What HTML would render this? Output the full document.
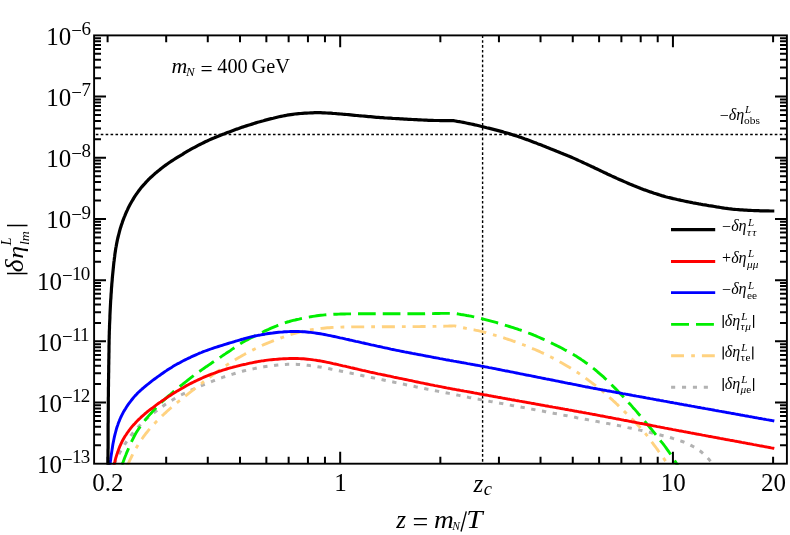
<!DOCTYPE html>
<html><head><meta charset="utf-8"><title>chart</title>
<style>html,body{margin:0;padding:0;background:#fff;}svg{display:block;will-change:transform;transform:translateZ(0);}</style>
</head><body>
<svg width="790" height="535" viewBox="0 0 790 535">
<rect width="790" height="535" fill="#fff"/>
<defs><clipPath id="c"><rect x="94.1" y="35.4" width="692.8" height="429.3"/></clipPath></defs>
<path d="M95.8,134.5 H786.9" stroke="#000" stroke-width="1.7" stroke-dasharray="2.6 2.32" fill="none"/>
<path d="M482.6,35.3 V463.7" stroke="#000" stroke-width="1.4" stroke-dasharray="2.7 2.17" fill="none"/>
<g clip-path="url(#c)" fill="none" stroke-linejoin="round">
<path d="M113.6,466.0 L114.4,464.1 L115.1,462.3 L115.9,460.5 L116.7,458.6 L117.6,456.8 L118.5,455.1 L119.4,453.3 L120.4,451.5 L121.4,449.8 L122.4,448.1 L123.5,446.4 L124.5,444.7 L125.6,443.1 L126.7,441.4 L127.9,439.7 L129.0,438.1 L130.2,436.5 L131.4,434.9 L132.6,433.3 L133.9,431.8 L135.2,430.3 L136.5,428.8 L137.9,427.3 L139.3,425.9 L140.7,424.4 L142.1,423.0 L143.5,421.6 L145.0,420.3 L146.5,418.9 L148.0,417.6 L149.5,416.4 L151.1,415.1 L152.6,413.8 L154.2,412.6 L155.8,411.4 L157.4,410.2 L159.0,408.9 L160.6,407.8 L162.2,406.6 L163.8,405.5 L165.5,404.3 L167.2,403.2 L168.9,402.2 L170.6,401.1 L172.3,400.1 L174.0,399.0 L175.7,398.0 L177.4,397.0 L179.2,396.0 L180.9,395.1 L182.7,394.2 L184.5,393.3 L186.3,392.4 L188.1,391.5 L189.9,390.7 L191.7,389.9 L193.6,389.1 L195.4,388.3 L197.2,387.5 L199.1,386.7 L200.9,385.9 L202.8,385.2 L204.6,384.4 L206.5,383.7 L208.3,382.9 L210.2,382.2 L212.1,381.4 L213.9,380.7 L215.8,380.0 L217.7,379.2 L219.5,378.5 L221.4,377.9 L223.3,377.2 L225.2,376.5 L227.1,375.9 L229.0,375.3 L230.9,374.7 L232.8,374.1 L234.7,373.5 L236.6,372.9 L238.5,372.3 L240.5,371.8 L242.4,371.3 L244.3,370.8 L246.3,370.3 L248.2,369.9 L250.2,369.4 L252.1,369.0 L254.1,368.6 L256.1,368.2 L258.0,367.8 L260.0,367.5 L262.0,367.1 L263.9,366.8 L265.9,366.5 L267.9,366.2 L269.9,366.0 L271.9,365.7 L273.9,365.5 L275.8,365.2 L277.8,365.0 L279.8,364.8 L281.8,364.7 L283.8,364.5 L285.8,364.4 L287.8,364.3 L289.8,364.3 L291.8,364.3 L293.8,364.3 L295.8,364.3 L297.8,364.4 L299.8,364.6 L301.8,364.7 L303.8,364.9 L305.8,365.1 L307.7,365.3 L309.7,365.6 L311.7,365.8 L313.7,366.1 L315.7,366.4 L317.7,366.7 L319.6,367.0 L321.6,367.3 L323.6,367.7 L325.5,368.1 L327.5,368.4 L329.5,368.8 L331.4,369.2 L333.4,369.6 L335.4,370.0 L337.3,370.4 L339.3,370.8 L341.3,371.2 L343.2,371.6 L345.2,372.0 L347.1,372.4 L349.1,372.8 L351.1,373.2 L353.0,373.6 L355.0,374.0 L356.9,374.5 L358.9,374.9 L360.8,375.3 L362.8,375.7 L364.8,376.1 L366.7,376.5 L368.7,376.9 L370.6,377.3 L372.6,377.7 L374.6,378.1 L376.5,378.5 L378.5,378.9 L380.4,379.4 L382.4,379.8 L384.4,380.2 L386.3,380.6 L388.3,381.0 L390.3,381.4 L392.2,381.8 L394.2,382.2 L396.1,382.6 L398.1,383.0 L400.0,383.4 L402.0,383.9 L404.0,384.3 L405.9,384.7 L407.9,385.1 L409.8,385.5 L411.8,385.9 L413.8,386.3 L415.7,386.8 L417.7,387.2 L419.6,387.6 L421.6,388.0 L423.6,388.4 L425.5,388.8 L427.5,389.2 L429.5,389.5 L431.4,389.9 L433.4,390.3 L435.3,390.7 L437.3,391.1 L439.3,391.5 L441.2,391.9 L443.2,392.3 L445.2,392.6 L447.1,393.0 L449.1,393.4 L451.1,393.8 L453.0,394.2 L455.0,394.6 L456.9,395.0 L458.9,395.4 L460.9,395.8 L462.8,396.2 L464.8,396.6 L466.8,397.0 L468.7,397.4 L470.7,397.7 L472.7,398.1 L474.6,398.5 L476.6,398.9 L478.6,399.2 L480.5,399.6 L482.5,400.0 L484.5,400.4 L486.4,400.7 L488.4,401.1 L490.4,401.5 L492.3,401.8 L494.3,402.2 L496.3,402.6 L498.2,402.9 L500.2,403.3 L502.2,403.6 L504.1,404.0 L506.1,404.4 L508.1,404.7 L510.0,405.1 L512.0,405.5 L514.0,405.8 L515.9,406.2 L517.9,406.6 L519.9,406.9 L521.9,407.3 L523.8,407.6 L525.8,408.0 L527.8,408.4 L529.7,408.7 L531.7,409.1 L533.7,409.5 L535.6,409.9 L537.6,410.2 L539.6,410.6 L541.5,411.0 L543.5,411.3 L545.5,411.7 L547.4,412.1 L549.4,412.5 L551.4,412.8 L553.3,413.2 L555.3,413.6 L557.3,413.9 L559.2,414.3 L561.2,414.7 L563.2,415.1 L565.1,415.4 L567.1,415.8 L569.1,416.2 L571.0,416.6 L573.0,416.9 L575.0,417.3 L576.9,417.7 L578.9,418.0 L580.9,418.4 L582.8,418.8 L584.8,419.2 L586.8,419.5 L588.7,419.9 L590.7,420.3 L592.7,420.7 L594.6,421.0 L596.6,421.4 L598.6,421.8 L600.5,422.1 L602.5,422.5 L604.5,422.9 L606.4,423.3 L608.4,423.6 L610.4,424.0 L612.3,424.4 L614.3,424.8 L616.3,425.2 L618.2,425.5 L620.2,425.9 L622.2,426.3 L624.1,426.7 L626.1,427.1 L628.0,427.6 L630.0,428.0 L632.0,428.4 L633.9,428.8 L635.9,429.2 L637.8,429.6 L639.8,430.1 L641.7,430.5 L643.7,431.0 L645.6,431.4 L647.6,431.9 L649.5,432.3 L651.5,432.8 L653.4,433.3 L655.4,433.7 L657.3,434.2 L659.3,434.7 L661.2,435.2 L663.1,435.7 L665.1,436.2 L667.0,436.7 L668.9,437.2 L670.9,437.8 L672.8,438.4 L674.7,438.9 L676.6,439.5 L678.5,440.2 L680.4,440.8 L682.3,441.5 L684.1,442.2 L686.0,443.0 L687.8,443.8 L689.6,444.7 L691.4,445.6 L693.1,446.5 L694.8,447.5 L696.5,448.6 L698.2,449.7 L699.8,450.8 L701.4,452.0 L702.9,453.3 L704.4,454.6 L705.9,456.0 L707.2,457.4 L708.6,458.9 L709.8,460.4 L711.1,462.0 L712.3,463.6 L713.4,465.2 L714.0,466.0" stroke="#b2b2b2" stroke-width="3.0" stroke-dasharray="4.3 6.6" stroke-dashoffset="-2"/>
<path d="M127.0,466.0 L127.9,464.2 L128.8,462.4 L129.6,460.6 L130.5,458.8 L131.4,457.0 L132.3,455.2 L133.2,453.4 L134.1,451.6 L135.1,449.9 L136.1,448.2 L137.1,446.4 L138.1,444.7 L139.2,443.0 L140.3,441.4 L141.4,439.7 L142.6,438.0 L143.7,436.4 L144.9,434.8 L146.1,433.2 L147.4,431.7 L148.6,430.1 L149.9,428.6 L151.3,427.1 L152.6,425.6 L154.0,424.1 L155.3,422.7 L156.7,421.2 L158.1,419.8 L159.5,418.4 L161.0,417.0 L162.4,415.6 L163.9,414.2 L165.4,412.9 L166.8,411.5 L168.3,410.2 L169.8,408.8 L171.3,407.5 L172.8,406.2 L174.4,404.9 L175.9,403.6 L177.4,402.4 L179.0,401.1 L180.6,399.9 L182.1,398.6 L183.7,397.4 L185.3,396.1 L186.9,394.9 L188.4,393.7 L190.0,392.4 L191.6,391.2 L193.2,389.9 L194.8,388.7 L196.3,387.5 L197.9,386.2 L199.5,385.0 L201.1,383.8 L202.6,382.5 L204.2,381.3 L205.8,380.1 L207.4,378.9 L209.0,377.7 L210.6,376.5 L212.2,375.3 L213.8,374.1 L215.5,372.9 L217.1,371.7 L218.7,370.6 L220.4,369.4 L222.0,368.3 L223.6,367.1 L225.3,366.0 L227.0,364.9 L228.7,363.8 L230.4,362.7 L232.1,361.7 L233.8,360.7 L235.5,359.6 L237.2,358.6 L238.9,357.6 L240.7,356.6 L242.4,355.6 L244.2,354.6 L245.9,353.6 L247.7,352.7 L249.4,351.7 L251.2,350.8 L253.0,349.9 L254.8,349.0 L256.6,348.1 L258.4,347.2 L260.2,346.4 L262.0,345.5 L263.8,344.7 L265.7,343.9 L267.5,343.1 L269.4,342.4 L271.2,341.7 L273.1,340.9 L275.0,340.2 L276.8,339.5 L278.7,338.8 L280.6,338.0 L282.5,337.4 L284.4,336.7 L286.2,336.0 L288.1,335.4 L290.0,334.7 L292.0,334.1 L293.9,333.6 L295.8,333.0 L297.7,332.5 L299.7,332.0 L301.6,331.6 L303.6,331.1 L305.5,330.7 L307.5,330.3 L309.5,330.0 L311.4,329.7 L313.4,329.4 L315.4,329.1 L317.4,328.8 L319.4,328.6 L321.4,328.4 L323.4,328.2 L325.4,328.0 L327.4,327.8 L329.4,327.7 L331.4,327.5 L333.4,327.4 L335.4,327.3 L337.4,327.2 L339.4,327.2 L341.4,327.1 L343.4,327.0 L345.4,327.0 L347.4,327.0 L349.4,327.0 L351.4,326.9 L353.4,326.9 L355.4,326.9 L357.4,326.9 L359.4,326.9 L361.4,326.9 L363.4,326.9 L365.4,326.9 L367.4,326.8 L369.4,326.8 L371.4,326.8 L373.4,326.8 L375.4,326.8 L377.4,326.8 L379.4,326.8 L381.4,326.8 L383.5,326.7 L385.5,326.7 L387.5,326.7 L389.5,326.7 L391.5,326.7 L393.5,326.7 L395.5,326.7 L397.5,326.7 L399.5,326.7 L401.5,326.6 L403.5,326.6 L405.5,326.6 L407.5,326.6 L409.5,326.6 L411.5,326.6 L413.5,326.6 L415.5,326.6 L417.5,326.6 L419.5,326.6 L421.5,326.5 L423.5,326.5 L425.5,326.5 L427.5,326.5 L429.6,326.5 L431.6,326.5 L433.6,326.4 L435.6,326.4 L437.6,326.3 L439.6,326.3 L441.6,326.2 L443.6,326.2 L445.6,326.1 L447.6,326.1 L449.6,326.0 L451.6,326.0 L453.6,325.9 L454.6,325.9 L454.6,325.9 L456.6,326.3 L458.5,326.8 L460.5,327.2 L462.4,327.6 L464.4,328.0 L466.3,328.4 L468.3,328.8 L470.3,329.2 L472.2,329.6 L474.2,329.9 L476.2,330.3 L478.1,330.7 L480.1,331.2 L482.0,331.6 L483.9,332.1 L485.9,332.6 L487.8,333.2 L489.7,333.7 L491.7,334.2 L493.6,334.8 L495.5,335.4 L497.4,335.9 L499.3,336.5 L501.2,337.1 L503.2,337.7 L505.1,338.3 L507.0,339.0 L508.9,339.6 L510.7,340.2 L512.6,340.9 L514.5,341.5 L516.4,342.2 L518.3,342.9 L520.2,343.6 L522.1,344.3 L523.9,345.0 L525.8,345.7 L527.6,346.5 L529.5,347.2 L531.3,348.0 L533.2,348.8 L535.0,349.5 L536.9,350.3 L538.7,351.1 L540.5,352.0 L542.3,352.8 L544.1,353.7 L545.9,354.5 L547.7,355.4 L549.5,356.3 L551.3,357.2 L553.1,358.1 L554.9,359.0 L556.6,360.0 L558.4,360.9 L560.1,361.9 L561.9,362.9 L563.6,363.9 L565.3,364.9 L567.0,365.9 L568.8,367.0 L570.5,368.0 L572.2,369.1 L573.9,370.1 L575.5,371.2 L577.2,372.3 L578.9,373.4 L580.5,374.6 L582.2,375.7 L583.8,376.9 L585.4,378.0 L587.0,379.2 L588.6,380.4 L590.3,381.6 L591.9,382.8 L593.4,384.0 L595.0,385.2 L596.6,386.5 L598.2,387.7 L599.7,389.0 L601.3,390.2 L602.8,391.5 L604.3,392.8 L605.9,394.1 L607.4,395.4 L608.9,396.7 L610.3,398.1 L611.8,399.4 L613.3,400.8 L614.8,402.1 L616.2,403.5 L617.7,404.9 L619.1,406.3 L620.5,407.7 L622.0,409.1 L623.4,410.5 L624.8,411.9 L626.2,413.3 L627.6,414.7 L629.1,416.2 L630.5,417.6 L631.9,419.0 L633.3,420.4 L634.7,421.8 L636.1,423.2 L637.5,424.7 L638.9,426.1 L640.2,427.6 L641.6,429.1 L642.9,430.6 L644.2,432.1 L645.5,433.7 L646.7,435.2 L647.9,436.8 L649.1,438.4 L650.3,440.0 L651.5,441.6 L652.7,443.2 L653.9,444.8 L655.1,446.4 L656.3,448.0 L657.5,449.7 L658.6,451.3 L659.8,452.9 L661.0,454.5 L662.1,456.2 L663.3,457.8 L664.4,459.4 L665.6,461.1 L666.7,462.7 L667.9,464.4 L669.0,466.0" stroke="#ffd280" stroke-width="2.9" stroke-dasharray="13 7 3.8 6.9" stroke-dashoffset="0"/>
<path d="M121.5,466.0 L122.2,464.1 L123.0,462.3 L123.7,460.4 L124.4,458.5 L125.1,456.7 L125.9,454.8 L126.6,452.9 L127.4,451.1 L128.2,449.2 L129.0,447.4 L129.8,445.6 L130.6,443.7 L131.4,441.9 L132.3,440.1 L133.2,438.3 L134.1,436.5 L135.0,434.8 L136.0,433.0 L137.1,431.3 L138.1,429.7 L139.3,428.0 L140.4,426.4 L141.6,424.7 L142.8,423.1 L144.0,421.6 L145.2,420.0 L146.5,418.4 L147.8,416.9 L149.1,415.4 L150.4,413.9 L151.8,412.4 L153.1,410.9 L154.5,409.5 L155.9,408.0 L157.3,406.6 L158.6,405.1 L160.1,403.7 L161.5,402.3 L163.0,400.9 L164.4,399.6 L165.9,398.3 L167.4,396.9 L168.9,395.6 L170.5,394.3 L172.0,393.0 L173.5,391.7 L175.0,390.4 L176.6,389.1 L178.1,387.9 L179.7,386.6 L181.2,385.3 L182.8,384.1 L184.4,382.8 L186.0,381.6 L187.5,380.4 L189.1,379.1 L190.7,377.9 L192.3,376.7 L193.9,375.5 L195.5,374.3 L197.1,373.1 L198.7,371.9 L200.4,370.8 L202.0,369.6 L203.7,368.5 L205.3,367.3 L207.0,366.2 L208.6,365.1 L210.3,364.0 L211.9,362.8 L213.6,361.7 L215.3,360.6 L216.9,359.5 L218.6,358.4 L220.3,357.3 L221.9,356.1 L223.6,355.0 L225.3,353.9 L226.9,352.8 L228.6,351.7 L230.3,350.6 L231.9,349.4 L233.6,348.3 L235.2,347.2 L236.9,346.0 L238.5,344.9 L240.2,343.9 L241.9,342.8 L243.7,341.8 L245.4,340.8 L247.2,339.9 L248.9,338.9 L250.7,338.0 L252.5,337.1 L254.3,336.2 L256.1,335.3 L257.9,334.4 L259.7,333.5 L261.5,332.6 L263.3,331.8 L265.1,330.9 L266.9,330.1 L268.7,329.3 L270.6,328.4 L272.4,327.6 L274.3,326.8 L276.1,326.1 L278.0,325.3 L279.8,324.6 L281.7,323.9 L283.6,323.2 L285.5,322.6 L287.4,322.0 L289.3,321.5 L291.3,320.9 L293.2,320.4 L295.1,320.0 L297.1,319.5 L299.0,319.1 L301.0,318.6 L303.0,318.2 L304.9,317.8 L306.9,317.4 L308.9,317.1 L310.8,316.7 L312.8,316.4 L314.8,316.1 L316.8,315.8 L318.8,315.5 L320.7,315.3 L322.7,315.1 L324.7,314.9 L326.7,314.7 L328.7,314.5 L330.7,314.4 L332.7,314.3 L334.7,314.2 L336.7,314.2 L338.7,314.1 L340.7,314.0 L342.7,314.0 L344.7,314.0 L346.8,313.9 L348.8,313.9 L350.8,313.9 L352.8,313.9 L354.8,313.9 L356.8,313.8 L358.8,313.8 L360.8,313.8 L362.8,313.8 L364.8,313.8 L366.8,313.8 L368.8,313.8 L370.8,313.8 L372.8,313.8 L374.8,313.8 L376.8,313.8 L378.8,313.8 L380.8,313.8 L382.8,313.8 L384.8,313.8 L386.8,313.8 L388.9,313.8 L390.9,313.8 L392.9,313.8 L394.9,313.8 L396.9,313.8 L398.9,313.8 L400.9,313.8 L402.9,313.8 L404.9,313.8 L406.9,313.8 L408.9,313.8 L410.9,313.8 L412.9,313.8 L414.9,313.8 L416.9,313.8 L418.9,313.7 L420.9,313.7 L422.9,313.7 L424.9,313.7 L426.9,313.6 L428.9,313.6 L430.9,313.6 L433.0,313.6 L435.0,313.5 L437.0,313.5 L439.0,313.5 L441.0,313.4 L443.0,313.4 L445.0,313.4 L447.0,313.4 L449.0,313.4 L451.0,313.4 L453.0,313.5 L455.0,313.5 L455.0,313.5 L457.0,313.8 L458.9,314.1 L460.9,314.5 L462.9,314.8 L464.9,315.1 L466.8,315.5 L468.8,315.8 L470.8,316.2 L472.7,316.6 L474.7,317.0 L476.6,317.5 L478.6,317.9 L480.5,318.4 L482.5,318.9 L484.4,319.4 L486.3,319.9 L488.3,320.4 L490.2,320.9 L492.1,321.4 L494.1,321.9 L496.0,322.4 L497.9,323.0 L499.9,323.5 L501.8,324.1 L503.7,324.7 L505.6,325.3 L507.5,325.9 L509.4,326.5 L511.3,327.1 L513.2,327.7 L515.1,328.3 L517.0,328.9 L518.9,329.6 L520.8,330.2 L522.7,330.9 L524.6,331.6 L526.4,332.3 L528.3,333.0 L530.2,333.7 L532.1,334.4 L533.9,335.2 L535.8,335.9 L537.6,336.7 L539.5,337.5 L541.3,338.3 L543.1,339.1 L544.9,339.9 L546.7,340.8 L548.5,341.6 L550.4,342.5 L552.2,343.4 L553.9,344.2 L555.7,345.1 L557.5,346.0 L559.3,346.9 L561.1,347.8 L562.9,348.8 L564.6,349.7 L566.4,350.6 L568.2,351.6 L569.9,352.5 L571.7,353.5 L573.4,354.5 L575.1,355.6 L576.8,356.6 L578.5,357.7 L580.2,358.8 L581.8,359.9 L583.5,361.0 L585.1,362.2 L586.7,363.3 L588.4,364.5 L589.9,365.7 L591.5,366.9 L593.1,368.2 L594.7,369.4 L596.2,370.7 L597.7,372.0 L599.3,373.3 L600.8,374.6 L602.3,375.9 L603.8,377.2 L605.2,378.6 L606.7,379.9 L608.1,381.3 L609.6,382.7 L611.0,384.1 L612.4,385.6 L613.8,387.0 L615.2,388.4 L616.6,389.8 L618.0,391.3 L619.4,392.7 L620.8,394.2 L622.1,395.6 L623.5,397.1 L624.8,398.5 L626.2,400.0 L627.6,401.5 L628.9,403.0 L630.3,404.4 L631.6,405.9 L632.9,407.4 L634.3,408.9 L635.6,410.4 L636.9,411.9 L638.2,413.5 L639.5,415.0 L640.8,416.5 L642.0,418.1 L643.3,419.6 L644.6,421.1 L645.9,422.7 L647.2,424.2 L648.5,425.7 L649.7,427.3 L651.0,428.8 L652.3,430.3 L653.6,431.9 L654.8,433.4 L656.1,435.0 L657.3,436.6 L658.6,438.1 L659.8,439.7 L661.0,441.3 L662.3,442.9 L663.5,444.4 L664.7,446.0 L665.9,447.6 L667.1,449.3 L668.2,450.9 L669.3,452.5 L670.5,454.2 L671.6,455.9 L672.6,457.5 L673.7,459.2 L674.8,460.9 L675.9,462.6 L676.9,464.3 L678.0,466.0" stroke="#00ee00" stroke-width="2.9" stroke-dasharray="17.7 7" stroke-dashoffset="-1.4"/>
<path d="M109.8,466.0 L110.1,464.0 L110.3,462.0 L110.6,460.0 L110.8,458.1 L111.1,456.1 L111.4,454.1 L111.7,452.1 L112.0,450.1 L112.3,448.2 L112.6,446.2 L112.9,444.2 L113.3,442.3 L113.7,440.3 L114.1,438.3 L114.5,436.4 L115.0,434.4 L115.5,432.5 L116.0,430.6 L116.5,428.7 L117.1,426.8 L117.8,424.9 L118.4,423.0 L119.2,421.1 L119.9,419.3 L120.7,417.5 L121.6,415.7 L122.5,413.9 L123.4,412.1 L124.4,410.4 L125.5,408.7 L126.5,407.0 L127.6,405.4 L128.8,403.7 L130.0,402.1 L131.2,400.5 L132.4,399.0 L133.7,397.4 L135.0,395.9 L136.4,394.5 L137.7,393.0 L139.2,391.7 L140.6,390.3 L142.1,389.0 L143.7,387.7 L145.2,386.4 L146.7,385.1 L148.3,383.9 L149.9,382.6 L151.4,381.4 L153.0,380.2 L154.6,379.0 L156.2,377.8 L157.8,376.6 L159.5,375.5 L161.1,374.3 L162.7,373.2 L164.4,372.0 L166.1,370.9 L167.7,369.8 L169.4,368.7 L171.1,367.7 L172.8,366.6 L174.5,365.6 L176.3,364.6 L178.0,363.6 L179.8,362.7 L181.5,361.7 L183.3,360.8 L185.1,359.9 L186.9,359.0 L188.7,358.1 L190.5,357.3 L192.3,356.4 L194.1,355.6 L195.9,354.8 L197.8,354.0 L199.6,353.2 L201.5,352.5 L203.3,351.7 L205.2,351.0 L207.1,350.3 L208.9,349.7 L210.8,349.0 L212.7,348.3 L214.6,347.7 L216.5,347.1 L218.4,346.5 L220.3,345.9 L222.2,345.3 L224.2,344.7 L226.1,344.1 L228.0,343.5 L229.9,342.9 L231.8,342.4 L233.7,341.8 L235.7,341.2 L237.6,340.7 L239.5,340.1 L241.4,339.5 L243.3,339.0 L245.3,338.4 L247.2,337.9 L249.1,337.4 L251.0,336.9 L253.0,336.4 L254.9,336.0 L256.9,335.6 L258.9,335.2 L260.8,334.9 L262.8,334.5 L264.8,334.2 L266.7,333.8 L268.7,333.5 L270.7,333.2 L272.7,333.0 L274.7,332.7 L276.6,332.5 L278.6,332.3 L280.6,332.1 L282.6,332.0 L284.6,331.8 L286.6,331.7 L288.6,331.6 L290.6,331.5 L292.6,331.5 L294.6,331.5 L296.6,331.5 L298.6,331.5 L300.6,331.6 L302.6,331.7 L304.6,331.8 L306.6,332.0 L308.6,332.2 L310.6,332.4 L312.5,332.6 L314.5,332.9 L316.5,333.2 L318.5,333.5 L320.4,333.8 L322.4,334.1 L324.4,334.5 L326.3,334.9 L328.3,335.3 L330.3,335.7 L332.2,336.1 L334.2,336.5 L336.1,336.9 L338.1,337.3 L340.1,337.8 L342.0,338.2 L344.0,338.6 L345.9,339.1 L347.9,339.5 L349.8,340.0 L351.8,340.4 L353.7,340.8 L355.7,341.3 L357.6,341.7 L359.6,342.1 L361.5,342.6 L363.5,343.0 L365.4,343.5 L367.4,343.9 L369.3,344.3 L371.3,344.8 L373.2,345.2 L375.2,345.6 L377.2,346.1 L379.1,346.5 L381.1,346.9 L383.0,347.4 L385.0,347.8 L386.9,348.2 L388.9,348.6 L390.8,349.1 L392.8,349.5 L394.7,349.9 L396.7,350.3 L398.7,350.7 L400.6,351.1 L402.6,351.5 L404.6,351.9 L406.5,352.2 L408.5,352.6 L410.5,353.0 L412.4,353.4 L414.4,353.7 L416.3,354.1 L418.3,354.5 L420.3,354.8 L422.2,355.2 L424.2,355.6 L426.2,356.0 L428.1,356.3 L430.1,356.7 L432.1,357.1 L434.0,357.5 L436.0,357.8 L438.0,358.2 L439.9,358.6 L441.9,358.9 L443.9,359.3 L445.8,359.7 L447.8,360.0 L449.8,360.4 L451.7,360.7 L453.7,361.1 L455.7,361.4 L457.7,361.8 L459.6,362.1 L461.6,362.5 L463.6,362.8 L465.5,363.2 L467.5,363.6 L469.5,363.9 L471.4,364.3 L473.4,364.6 L475.4,365.0 L477.3,365.3 L479.3,365.7 L481.3,366.1 L483.2,366.4 L485.2,366.8 L487.2,367.2 L489.1,367.6 L491.1,367.9 L493.1,368.3 L495.0,368.7 L497.0,369.1 L499.0,369.5 L500.9,369.9 L502.9,370.3 L504.9,370.7 L506.8,371.0 L508.8,371.4 L510.7,371.8 L512.7,372.2 L514.7,372.6 L516.6,373.0 L518.6,373.4 L520.6,373.8 L522.5,374.2 L524.5,374.6 L526.4,375.0 L528.4,375.3 L530.4,375.7 L532.3,376.1 L534.3,376.5 L536.2,376.9 L538.2,377.3 L540.2,377.7 L542.1,378.1 L544.1,378.5 L546.1,378.9 L548.0,379.2 L550.0,379.6 L551.9,380.0 L553.9,380.4 L555.9,380.8 L557.8,381.2 L559.8,381.6 L561.8,382.0 L563.7,382.4 L565.7,382.8 L567.6,383.2 L569.6,383.5 L571.6,383.9 L573.5,384.3 L575.5,384.7 L577.5,385.1 L579.4,385.5 L581.4,385.9 L583.3,386.3 L585.3,386.7 L587.3,387.0 L589.2,387.4 L591.2,387.8 L593.2,388.2 L595.1,388.5 L597.1,388.9 L599.1,389.3 L601.0,389.6 L603.0,390.0 L605.0,390.3 L606.9,390.7 L608.9,391.0 L610.9,391.4 L612.9,391.8 L614.8,392.1 L616.8,392.5 L618.8,392.8 L620.7,393.2 L622.7,393.6 L624.7,393.9 L626.6,394.3 L628.6,394.6 L630.6,395.0 L632.5,395.4 L634.5,395.7 L636.5,396.1 L638.4,396.4 L640.4,396.8 L642.4,397.1 L644.3,397.5 L646.3,397.9 L648.3,398.2 L650.3,398.6 L652.2,398.9 L654.2,399.3 L656.2,399.7 L658.1,400.0 L660.1,400.4 L662.1,400.7 L664.0,401.1 L666.0,401.4 L668.0,401.8 L669.9,402.2 L671.9,402.5 L673.9,402.9 L675.8,403.2 L677.8,403.6 L679.8,404.0 L681.8,404.3 L683.7,404.7 L685.7,405.0 L687.7,405.4 L689.6,405.7 L691.6,406.1 L693.6,406.4 L695.5,406.8 L697.5,407.2 L699.5,407.5 L701.4,407.9 L703.4,408.2 L705.4,408.6 L707.3,408.9 L709.3,409.3 L711.3,409.6 L713.3,410.0 L715.2,410.4 L717.2,410.7 L719.2,411.1 L721.1,411.4 L723.1,411.8 L725.1,412.1 L727.0,412.5 L729.0,412.8 L731.0,413.2 L732.9,413.5 L734.9,413.9 L736.9,414.3 L738.9,414.6 L740.8,415.0 L742.8,415.3 L744.8,415.7 L746.7,416.0 L748.7,416.4 L750.7,416.7 L752.6,417.1 L754.6,417.5 L756.6,417.8 L758.5,418.2 L760.5,418.5 L762.5,418.9 L764.5,419.2 L766.4,419.6 L768.4,419.9 L770.4,420.3 L772.3,420.6 L774.3,421.0" stroke="#0000ff" stroke-width="2.9"/>
<path d="M113.6,466.0 L114.1,464.1 L114.7,462.1 L115.2,460.2 L115.7,458.3 L116.3,456.4 L116.9,454.5 L117.5,452.6 L118.2,450.7 L118.9,448.8 L119.6,446.9 L120.4,445.1 L121.2,443.3 L122.1,441.5 L123.0,439.8 L124.0,438.0 L125.0,436.3 L126.1,434.7 L127.2,433.0 L128.4,431.4 L129.5,429.8 L130.8,428.2 L132.0,426.7 L133.3,425.1 L134.7,423.7 L136.0,422.2 L137.4,420.8 L138.8,419.4 L140.3,418.0 L141.7,416.6 L143.2,415.3 L144.7,414.0 L146.3,412.7 L147.8,411.4 L149.4,410.2 L151.0,409.0 L152.6,407.8 L154.2,406.6 L155.8,405.4 L157.4,404.2 L159.0,403.0 L160.7,401.9 L162.3,400.7 L164.0,399.6 L165.6,398.5 L167.3,397.4 L168.9,396.2 L170.6,395.2 L172.3,394.1 L174.0,393.0 L175.7,392.0 L177.4,390.9 L179.1,389.9 L180.8,388.9 L182.6,387.9 L184.3,386.9 L186.0,385.9 L187.8,385.0 L189.6,384.0 L191.4,383.1 L193.2,382.2 L194.9,381.4 L196.8,380.5 L198.6,379.6 L200.4,378.8 L202.2,378.0 L204.0,377.2 L205.9,376.4 L207.7,375.7 L209.6,374.9 L211.4,374.2 L213.3,373.5 L215.2,372.8 L217.1,372.1 L219.0,371.4 L220.9,370.8 L222.8,370.2 L224.7,369.6 L226.6,369.0 L228.5,368.4 L230.4,367.9 L232.4,367.4 L234.3,366.8 L236.2,366.4 L238.2,365.9 L240.1,365.4 L242.1,364.9 L244.0,364.5 L246.0,364.1 L247.9,363.6 L249.9,363.2 L251.8,362.8 L253.8,362.4 L255.8,362.0 L257.7,361.6 L259.7,361.3 L261.7,360.9 L263.6,360.7 L265.6,360.4 L267.6,360.1 L269.6,359.9 L271.6,359.7 L273.6,359.5 L275.6,359.4 L277.6,359.2 L279.6,359.0 L281.5,358.9 L283.5,358.8 L285.5,358.7 L287.5,358.6 L289.5,358.5 L291.5,358.5 L293.5,358.5 L295.5,358.5 L297.5,358.5 L299.5,358.6 L301.5,358.7 L303.5,358.8 L305.5,359.0 L307.5,359.2 L309.5,359.4 L311.5,359.6 L313.5,359.9 L315.4,360.1 L317.4,360.5 L319.4,360.8 L321.4,361.1 L323.3,361.5 L325.3,361.9 L327.3,362.3 L329.2,362.7 L331.2,363.1 L333.1,363.6 L335.1,364.0 L337.0,364.4 L339.0,364.9 L340.9,365.3 L342.9,365.8 L344.8,366.2 L346.8,366.7 L348.7,367.1 L350.7,367.6 L352.6,368.0 L354.6,368.5 L356.5,368.9 L358.5,369.4 L360.4,369.8 L362.4,370.3 L364.3,370.7 L366.3,371.2 L368.2,371.6 L370.2,372.1 L372.1,372.5 L374.1,372.9 L376.0,373.3 L378.0,373.8 L380.0,374.2 L381.9,374.6 L383.9,375.0 L385.8,375.4 L387.8,375.8 L389.8,376.2 L391.7,376.6 L393.7,377.1 L395.6,377.5 L397.6,377.9 L399.6,378.3 L401.5,378.7 L403.5,379.1 L405.4,379.5 L407.4,379.9 L409.3,380.3 L411.3,380.7 L413.3,381.2 L415.2,381.6 L417.2,382.0 L419.1,382.4 L421.1,382.8 L423.1,383.2 L425.0,383.6 L427.0,384.0 L428.9,384.4 L430.9,384.8 L432.9,385.2 L434.8,385.6 L436.8,385.9 L438.8,386.3 L440.7,386.7 L442.7,387.1 L444.7,387.5 L446.6,387.9 L448.6,388.2 L450.6,388.6 L452.5,389.0 L454.5,389.3 L456.5,389.7 L458.4,390.0 L460.4,390.4 L462.4,390.7 L464.3,391.1 L466.3,391.4 L468.3,391.8 L470.2,392.1 L472.2,392.5 L474.2,392.9 L476.2,393.2 L478.1,393.6 L480.1,394.0 L482.1,394.3 L484.0,394.7 L486.0,395.0 L488.0,395.4 L489.9,395.8 L491.9,396.1 L493.9,396.5 L495.8,396.8 L497.8,397.2 L499.8,397.5 L501.7,397.9 L503.7,398.3 L505.7,398.6 L507.7,399.0 L509.6,399.3 L511.6,399.7 L513.6,400.0 L515.5,400.4 L517.5,400.7 L519.5,401.1 L521.4,401.4 L523.4,401.8 L525.4,402.1 L527.4,402.5 L529.3,402.8 L531.3,403.2 L533.3,403.5 L535.2,403.9 L537.2,404.3 L539.2,404.6 L541.2,405.0 L543.1,405.3 L545.1,405.7 L547.1,406.0 L549.0,406.4 L551.0,406.7 L553.0,407.1 L554.9,407.4 L556.9,407.8 L558.9,408.1 L560.9,408.5 L562.8,408.8 L564.8,409.2 L566.8,409.5 L568.7,409.9 L570.7,410.2 L572.7,410.6 L574.6,411.0 L576.6,411.3 L578.6,411.7 L580.6,412.0 L582.5,412.4 L584.5,412.7 L586.5,413.1 L588.4,413.4 L590.4,413.8 L592.4,414.2 L594.3,414.5 L596.3,414.9 L598.3,415.3 L600.2,415.7 L602.2,416.0 L604.2,416.4 L606.1,416.8 L608.1,417.2 L610.1,417.5 L612.0,417.9 L614.0,418.3 L616.0,418.7 L617.9,419.0 L619.9,419.4 L621.9,419.8 L623.8,420.2 L625.8,420.5 L627.8,420.9 L629.7,421.3 L631.7,421.7 L633.6,422.0 L635.6,422.4 L637.6,422.8 L639.5,423.2 L641.5,423.5 L643.5,423.9 L645.4,424.3 L647.4,424.7 L649.4,425.0 L651.3,425.4 L653.3,425.8 L655.3,426.2 L657.2,426.6 L659.2,426.9 L661.2,427.3 L663.1,427.7 L665.1,428.1 L667.1,428.4 L669.0,428.8 L671.0,429.2 L673.0,429.6 L674.9,429.9 L676.9,430.3 L678.9,430.7 L680.8,431.0 L682.8,431.4 L684.8,431.8 L686.7,432.1 L688.7,432.5 L690.7,432.9 L692.6,433.2 L694.6,433.6 L696.6,434.0 L698.5,434.3 L700.5,434.7 L702.5,435.1 L704.4,435.4 L706.4,435.8 L708.4,436.2 L710.3,436.5 L712.3,436.9 L714.3,437.3 L716.3,437.6 L718.2,438.0 L720.2,438.4 L722.2,438.7 L724.1,439.1 L726.1,439.5 L728.1,439.8 L730.0,440.2 L732.0,440.5 L734.0,440.9 L735.9,441.3 L737.9,441.6 L739.9,442.0 L741.8,442.4 L743.8,442.7 L745.8,443.1 L747.7,443.5 L749.7,443.8 L751.7,444.2 L753.6,444.6 L755.6,444.9 L757.6,445.3 L759.5,445.7 L761.5,446.0 L763.5,446.4 L765.4,446.8 L767.4,447.1 L769.4,447.5 L771.3,447.9 L773.3,448.2 L774.3,448.4" stroke="#ff0000" stroke-width="2.9"/>
<path d="M108.0,466.0 L108.0,464.0 L108.0,462.0 L108.0,460.0 L108.0,458.0 L108.0,456.0 L108.0,454.0 L108.0,452.0 L108.0,450.0 L108.1,448.0 L108.1,446.0 L108.1,444.0 L108.1,442.0 L108.1,440.0 L108.1,438.0 L108.1,436.0 L108.1,434.0 L108.1,432.0 L108.1,430.0 L108.1,428.0 L108.1,426.0 L108.1,424.0 L108.2,422.0 L108.2,420.0 L108.2,418.0 L108.2,416.0 L108.2,414.0 L108.2,412.0 L108.3,410.0 L108.3,408.0 L108.3,406.0 L108.3,404.0 L108.3,402.0 L108.3,400.0 L108.3,398.0 L108.4,396.0 L108.4,394.0 L108.4,392.0 L108.4,390.0 L108.4,388.0 L108.5,386.0 L108.5,384.0 L108.5,382.0 L108.5,380.0 L108.6,378.0 L108.6,376.0 L108.6,374.0 L108.7,372.0 L108.7,370.0 L108.7,368.0 L108.7,366.0 L108.8,364.0 L108.8,362.0 L108.8,360.0 L108.9,358.0 L108.9,356.0 L108.9,354.0 L109.0,352.0 L109.0,350.0 L109.0,348.0 L109.0,346.0 L109.1,344.0 L109.1,342.0 L109.1,340.0 L109.2,338.0 L109.2,336.0 L109.3,334.0 L109.3,332.0 L109.4,330.0 L109.5,328.0 L109.5,326.0 L109.6,324.0 L109.7,322.0 L109.8,320.0 L109.9,318.0 L109.9,316.0 L110.0,314.0 L110.1,312.0 L110.2,310.0 L110.3,308.0 L110.4,306.0 L110.5,304.0 L110.6,302.0 L110.7,300.0 L110.9,298.0 L111.0,296.0 L111.1,294.0 L111.3,292.0 L111.4,290.0 L111.5,288.0 L111.7,286.1 L111.8,284.1 L112.0,282.1 L112.2,280.1 L112.3,278.1 L112.5,276.1 L112.7,274.1 L112.9,272.1 L113.1,270.1 L113.3,268.1 L113.5,266.1 L113.7,264.1 L113.9,262.2 L114.2,260.2 L114.4,258.2 L114.7,256.2 L114.9,254.2 L115.2,252.2 L115.5,250.3 L115.8,248.3 L116.2,246.3 L116.5,244.4 L116.9,242.4 L117.3,240.4 L117.7,238.5 L118.2,236.5 L118.7,234.6 L119.2,232.7 L119.7,230.7 L120.2,228.8 L120.8,226.9 L121.4,225.0 L122.1,223.1 L122.7,221.2 L123.4,219.4 L124.1,217.5 L124.9,215.6 L125.6,213.8 L126.4,212.0 L127.3,210.1 L128.1,208.3 L129.0,206.6 L129.9,204.8 L130.9,203.0 L131.9,201.3 L132.9,199.6 L133.9,197.9 L135.0,196.2 L136.1,194.5 L137.3,192.9 L138.4,191.3 L139.6,189.7 L140.9,188.1 L142.1,186.6 L143.4,185.1 L144.8,183.6 L146.1,182.1 L147.5,180.7 L148.9,179.2 L150.3,177.8 L151.8,176.5 L153.3,175.1 L154.7,173.8 L156.3,172.5 L157.8,171.2 L159.4,170.0 L160.9,168.7 L162.5,167.5 L164.1,166.3 L165.7,165.1 L167.3,164.0 L169.0,162.8 L170.6,161.7 L172.3,160.6 L174.0,159.5 L175.7,158.4 L177.3,157.4 L179.1,156.3 L180.8,155.3 L182.5,154.3 L184.2,153.2 L185.9,152.2 L187.6,151.2 L189.4,150.2 L191.1,149.2 L192.9,148.2 L194.6,147.3 L196.4,146.3 L198.1,145.4 L199.9,144.5 L201.7,143.6 L203.5,142.7 L205.3,141.8 L207.1,141.0 L208.9,140.1 L210.8,139.3 L212.6,138.5 L214.4,137.8 L216.3,137.0 L218.1,136.3 L220.0,135.5 L221.8,134.8 L223.7,134.1 L225.6,133.3 L227.4,132.6 L229.3,131.9 L231.2,131.2 L233.1,130.5 L234.9,129.8 L236.8,129.1 L238.7,128.5 L240.6,127.8 L242.5,127.1 L244.4,126.5 L246.3,125.9 L248.2,125.3 L250.1,124.7 L252.0,124.1 L253.9,123.5 L255.8,122.9 L257.7,122.3 L259.7,121.8 L261.6,121.2 L263.5,120.7 L265.4,120.1 L267.4,119.6 L269.3,119.1 L271.2,118.6 L273.2,118.2 L275.1,117.7 L277.1,117.2 L279.0,116.8 L281.0,116.4 L282.9,116.0 L284.9,115.6 L286.9,115.2 L288.8,114.9 L290.8,114.6 L292.8,114.3 L294.8,114.0 L296.7,113.8 L298.7,113.6 L300.7,113.5 L302.7,113.3 L304.7,113.2 L306.7,113.1 L308.7,113.0 L310.7,112.9 L312.7,112.8 L314.7,112.7 L316.7,112.7 L318.7,112.7 L320.7,112.7 L322.7,112.8 L324.7,112.9 L326.7,113.0 L328.7,113.1 L330.7,113.2 L332.7,113.4 L334.7,113.5 L336.6,113.7 L338.6,113.8 L340.6,114.0 L342.6,114.2 L344.6,114.3 L346.6,114.5 L348.6,114.7 L350.6,114.9 L352.6,115.1 L354.6,115.3 L356.6,115.5 L358.6,115.7 L360.5,115.8 L362.5,116.0 L364.5,116.2 L366.5,116.4 L368.5,116.6 L370.5,116.7 L372.5,116.9 L374.5,117.1 L376.5,117.3 L378.5,117.4 L380.5,117.6 L382.5,117.7 L384.5,117.9 L386.5,118.0 L388.5,118.1 L390.5,118.2 L392.5,118.4 L394.4,118.5 L396.4,118.6 L398.4,118.7 L400.4,118.8 L402.4,118.9 L404.4,119.1 L406.4,119.2 L408.4,119.3 L410.4,119.4 L412.4,119.5 L414.4,119.6 L416.4,119.7 L418.4,119.8 L420.4,119.9 L422.4,120.0 L424.4,120.1 L426.4,120.2 L428.4,120.3 L430.4,120.4 L432.4,120.4 L434.4,120.5 L436.4,120.5 L438.4,120.5 L440.4,120.6 L442.4,120.6 L444.4,120.6 L446.4,120.6 L448.4,120.7 L450.4,120.7 L452.4,120.7 L453.4,120.7 L453.4,120.7 L455.4,121.0 L457.3,121.4 L459.3,121.7 L461.3,122.0 L463.3,122.4 L465.2,122.8 L467.2,123.2 L469.1,123.6 L471.1,124.0 L473.0,124.4 L475.0,124.9 L476.9,125.3 L478.9,125.8 L480.8,126.3 L482.8,126.7 L484.7,127.2 L486.7,127.7 L488.6,128.1 L490.6,128.6 L492.5,129.1 L494.4,129.6 L496.4,130.1 L498.3,130.6 L500.2,131.1 L502.2,131.6 L504.1,132.2 L506.0,132.7 L507.9,133.3 L509.8,133.9 L511.8,134.5 L513.7,135.1 L515.6,135.7 L517.5,136.3 L519.4,137.0 L521.2,137.6 L523.1,138.3 L525.0,139.0 L526.9,139.6 L528.8,140.3 L530.7,141.0 L532.5,141.7 L534.4,142.4 L536.3,143.1 L538.1,143.9 L540.0,144.6 L541.9,145.3 L543.7,146.1 L545.6,146.8 L547.4,147.6 L549.3,148.3 L551.1,149.1 L553.0,149.8 L554.9,150.5 L556.7,151.3 L558.6,152.0 L560.4,152.8 L562.3,153.5 L564.1,154.3 L566.0,155.0 L567.9,155.8 L569.7,156.5 L571.5,157.3 L573.4,158.1 L575.2,158.9 L577.0,159.7 L578.9,160.6 L580.7,161.4 L582.5,162.2 L584.3,163.1 L586.1,163.9 L587.9,164.8 L589.8,165.6 L591.6,166.5 L593.4,167.3 L595.2,168.2 L597.0,169.0 L598.8,169.9 L600.6,170.8 L602.4,171.6 L604.2,172.5 L606.0,173.3 L607.8,174.2 L609.6,175.0 L611.5,175.9 L613.3,176.7 L615.1,177.5 L616.9,178.4 L618.7,179.2 L620.6,180.0 L622.4,180.8 L624.2,181.6 L626.1,182.4 L627.9,183.2 L629.7,184.0 L631.6,184.7 L633.4,185.5 L635.3,186.2 L637.2,187.0 L639.0,187.7 L640.9,188.5 L642.7,189.2 L644.6,189.9 L646.5,190.5 L648.4,191.2 L650.3,191.9 L652.2,192.5 L654.1,193.2 L656.0,193.8 L657.9,194.4 L659.8,195.0 L661.7,195.6 L663.6,196.1 L665.5,196.7 L667.5,197.2 L669.4,197.6 L671.3,198.1 L673.3,198.6 L675.2,199.0 L677.2,199.5 L679.1,199.9 L681.1,200.4 L683.1,200.8 L685.0,201.2 L687.0,201.6 L688.9,202.0 L690.9,202.4 L692.9,202.8 L694.8,203.1 L696.8,203.5 L698.8,203.9 L700.7,204.2 L702.7,204.6 L704.7,204.9 L706.6,205.2 L708.6,205.6 L710.6,205.9 L712.6,206.2 L714.5,206.5 L716.5,206.9 L718.5,207.2 L720.5,207.5 L722.4,207.8 L724.4,208.1 L726.4,208.3 L728.4,208.6 L730.4,208.8 L732.4,209.1 L734.3,209.3 L736.3,209.5 L738.3,209.6 L740.3,209.8 L742.3,209.9 L744.3,210.1 L746.3,210.2 L748.3,210.3 L750.3,210.4 L752.3,210.5 L754.3,210.6 L756.3,210.7 L758.3,210.7 L760.3,210.8 L762.3,210.8 L764.3,210.9 L766.3,210.9 L768.3,210.9 L770.3,211.0 L772.3,211.0 L774.3,211.0" stroke="#000000" stroke-width="3.2"/>
</g>
<path d="M107.60,463.7 v-6.9 M107.60,35.4 v6.9 M166.19,463.7 v-6.9 M166.19,35.4 v6.9 M207.77,463.7 v-6.9 M207.77,35.4 v6.9 M240.01,463.7 v-6.9 M240.01,35.4 v6.9 M266.36,463.7 v-6.9 M266.36,35.4 v6.9 M288.64,463.7 v-6.9 M288.64,35.4 v6.9 M307.94,463.7 v-6.9 M307.94,35.4 v6.9 M324.96,463.7 v-6.9 M324.96,35.4 v6.9 M340.18,463.7 v-11.9 M340.18,35.4 v11.9 M440.35,463.7 v-6.9 M440.35,35.4 v6.9 M498.94,463.7 v-6.9 M498.94,35.4 v6.9 M540.52,463.7 v-6.9 M540.52,35.4 v6.9 M572.76,463.7 v-6.9 M572.76,35.4 v6.9 M599.11,463.7 v-6.9 M599.11,35.4 v6.9 M621.39,463.7 v-6.9 M621.39,35.4 v6.9 M640.69,463.7 v-6.9 M640.69,35.4 v6.9 M657.71,463.7 v-6.9 M657.71,35.4 v6.9 M672.93,463.7 v-11.9 M672.93,35.4 v11.9 M773.10,463.7 v-6.9 M773.10,35.4 v6.9 M94.1,445.28 h6.9 M786.9,445.28 h-6.9 M94.1,434.51 h6.9 M786.9,434.51 h-6.9 M94.1,426.86 h6.9 M786.9,426.86 h-6.9 M94.1,420.93 h6.9 M786.9,420.93 h-6.9 M94.1,416.09 h6.9 M786.9,416.09 h-6.9 M94.1,411.99 h6.9 M786.9,411.99 h-6.9 M94.1,408.44 h6.9 M786.9,408.44 h-6.9 M94.1,405.31 h6.9 M786.9,405.31 h-6.9 M94.1,402.51 h11.9 M786.9,402.51 h-11.9 M94.1,384.10 h6.9 M786.9,384.10 h-6.9 M94.1,373.32 h6.9 M786.9,373.32 h-6.9 M94.1,365.68 h6.9 M786.9,365.68 h-6.9 M94.1,359.75 h6.9 M786.9,359.75 h-6.9 M94.1,354.90 h6.9 M786.9,354.90 h-6.9 M94.1,350.81 h6.9 M786.9,350.81 h-6.9 M94.1,347.26 h6.9 M786.9,347.26 h-6.9 M94.1,344.13 h6.9 M786.9,344.13 h-6.9 M94.1,341.33 h11.9 M786.9,341.33 h-11.9 M94.1,322.91 h6.9 M786.9,322.91 h-6.9 M94.1,312.14 h6.9 M786.9,312.14 h-6.9 M94.1,304.49 h6.9 M786.9,304.49 h-6.9 M94.1,298.56 h6.9 M786.9,298.56 h-6.9 M94.1,293.72 h6.9 M786.9,293.72 h-6.9 M94.1,289.62 h6.9 M786.9,289.62 h-6.9 M94.1,286.07 h6.9 M786.9,286.07 h-6.9 M94.1,282.94 h6.9 M786.9,282.94 h-6.9 M94.1,280.14 h11.9 M786.9,280.14 h-11.9 M94.1,261.72 h6.9 M786.9,261.72 h-6.9 M94.1,250.95 h6.9 M786.9,250.95 h-6.9 M94.1,243.31 h6.9 M786.9,243.31 h-6.9 M94.1,237.38 h6.9 M786.9,237.38 h-6.9 M94.1,232.53 h6.9 M786.9,232.53 h-6.9 M94.1,228.43 h6.9 M786.9,228.43 h-6.9 M94.1,224.89 h6.9 M786.9,224.89 h-6.9 M94.1,221.76 h6.9 M786.9,221.76 h-6.9 M94.1,218.96 h11.9 M786.9,218.96 h-11.9 M94.1,200.54 h6.9 M786.9,200.54 h-6.9 M94.1,189.76 h6.9 M786.9,189.76 h-6.9 M94.1,182.12 h6.9 M786.9,182.12 h-6.9 M94.1,176.19 h6.9 M786.9,176.19 h-6.9 M94.1,171.35 h6.9 M786.9,171.35 h-6.9 M94.1,167.25 h6.9 M786.9,167.25 h-6.9 M94.1,163.70 h6.9 M786.9,163.70 h-6.9 M94.1,160.57 h6.9 M786.9,160.57 h-6.9 M94.1,157.77 h11.9 M786.9,157.77 h-11.9 M94.1,139.35 h6.9 M786.9,139.35 h-6.9 M94.1,128.58 h6.9 M786.9,128.58 h-6.9 M94.1,120.93 h6.9 M786.9,120.93 h-6.9 M94.1,115.00 h6.9 M786.9,115.00 h-6.9 M94.1,110.16 h6.9 M786.9,110.16 h-6.9 M94.1,106.06 h6.9 M786.9,106.06 h-6.9 M94.1,102.52 h6.9 M786.9,102.52 h-6.9 M94.1,99.39 h6.9 M786.9,99.39 h-6.9 M94.1,96.59 h11.9 M786.9,96.59 h-11.9 M94.1,78.17 h6.9 M786.9,78.17 h-6.9 M94.1,67.39 h6.9 M786.9,67.39 h-6.9 M94.1,59.75 h6.9 M786.9,59.75 h-6.9 M94.1,53.82 h6.9 M786.9,53.82 h-6.9 M94.1,48.97 h6.9 M786.9,48.97 h-6.9 M94.1,44.88 h6.9 M786.9,44.88 h-6.9 M94.1,41.33 h6.9 M786.9,41.33 h-6.9 M94.1,38.20 h6.9 M786.9,38.20 h-6.9" stroke="#000" stroke-width="2.0" fill="none"/>
<rect x="94.1" y="35.4" width="692.8" height="428.3" fill="none" stroke="#000" stroke-width="1.9"/>
<g font-family="'Liberation Serif', serif" fill="#000">
<text x="62.1" y="473.1" font-size="25" text-anchor="end">10</text><text x="62.1" y="463.3" font-size="19" letter-spacing="-0.8"><tspan dy="2.3">−</tspan><tspan dy="-2.3">13</tspan></text>
<text x="62.1" y="411.9" font-size="25" text-anchor="end">10</text><text x="62.1" y="402.1" font-size="19" letter-spacing="-0.8"><tspan dy="2.3">−</tspan><tspan dy="-2.3">12</tspan></text>
<text x="62.1" y="350.7" font-size="25" text-anchor="end">10</text><text x="62.1" y="340.9" font-size="19" letter-spacing="-0.8"><tspan dy="2.3">−</tspan><tspan dy="-2.3">11</tspan></text>
<text x="62.1" y="289.5" font-size="25" text-anchor="end">10</text><text x="62.1" y="279.7" font-size="19" letter-spacing="-0.8"><tspan dy="2.3">−</tspan><tspan dy="-2.3">10</tspan></text>
<text x="71.2" y="228.4" font-size="25" text-anchor="end">10</text><text x="71.2" y="218.6" font-size="19" letter-spacing="-0.4"><tspan dy="2.3">−</tspan><tspan dy="-2.3">9</tspan></text>
<text x="71.2" y="167.2" font-size="25" text-anchor="end">10</text><text x="71.2" y="157.4" font-size="19" letter-spacing="-0.4"><tspan dy="2.3">−</tspan><tspan dy="-2.3">8</tspan></text>
<text x="71.2" y="106.0" font-size="25" text-anchor="end">10</text><text x="71.2" y="96.2" font-size="19" letter-spacing="-0.4"><tspan dy="2.3">−</tspan><tspan dy="-2.3">7</tspan></text>
<text x="71.2" y="44.8" font-size="25" text-anchor="end">10</text><text x="71.2" y="35.0" font-size="19" letter-spacing="-0.4"><tspan dy="2.3">−</tspan><tspan dy="-2.3">6</tspan></text>
<text x="107.9" y="491" font-size="25" text-anchor="middle">0.2</text>
<text x="340.5" y="491" font-size="25" text-anchor="middle">1</text>
<text x="673.2" y="491" font-size="25" text-anchor="middle">10</text>
<text x="773.4" y="491" font-size="25" text-anchor="middle">20</text>
<text y="73" font-size="20.3"><tspan x="171.4" font-style="italic" textLength="15.8" lengthAdjust="spacingAndGlyphs">m</tspan><tspan x="186.0" y="75.7" font-size="13" font-style="italic">N</tspan><tspan x="200.4" y="75.9" font-size="21.5">=</tspan><tspan x="217.3" y="73" word-spacing="-1.2">400 GeV</tspan></text>
<text y="527.8" font-size="25"><tspan x="396.2" font-style="italic">z</tspan><tspan x="412.4" y="531.0" font-size="28">=</tspan><tspan x="434.0" y="527.8" font-style="italic" textLength="19.8" lengthAdjust="spacingAndGlyphs">m</tspan><tspan x="452.3" y="529.7" font-size="11.5" font-style="italic">N</tspan><tspan x="466.3" y="527.8" font-style="italic" textLength="16.3" lengthAdjust="spacingAndGlyphs">T</tspan></text><path d="M461.0,531.5 L466.3,511.4" stroke="#000" stroke-width="1.35" fill="none"/>
<text x="473.6" y="492.4" font-size="25" font-style="italic">z<tspan font-size="18.5" dy="2.2" dx="0.3">c</tspan></text>
<g transform="translate(23,276) rotate(-90)"><path d="M2.4,-16 V4.5 M50.4,-16 V4.5" stroke="#000" stroke-width="1.5" fill="none"/><text x="3.8" y="0" font-size="24.5" font-style="italic" textLength="12.8" lengthAdjust="spacingAndGlyphs">δ</text><text x="17.2" y="0" font-size="21.5" font-style="italic" textLength="12.8" lengthAdjust="spacingAndGlyphs">η</text><text x="30.6" y="-11.8" font-size="14.5" font-style="italic">L</text><text x="30.9" y="6.4" font-size="11.6" font-style="italic" textLength="14.0" lengthAdjust="spacingAndGlyphs">lm</text></g>
<text x="719.7" y="121.1" font-size="16.0">−<tspan font-style="italic" dy="-1.1">δη</tspan></text><text x="745.0" y="113.2" font-size="10.8" font-style="italic">L</text><text x="744.1" y="124.4" font-size="11.4">obs</text>
<text x="722.1" y="232.1" font-size="16.0">−<tspan font-style="italic" dy="-1.1">δη</tspan></text><text x="748.1" y="225.6" font-size="11.0" font-style="italic">L</text><text x="747.1" y="235.7" font-size="11.3" font-style="italic" letter-spacing="1.0">ττ</text>
<text x="722.1" y="262.8" font-size="16.0">+<tspan font-style="italic">δη</tspan></text><text x="748.1" y="257.4" font-size="11.0" font-style="italic">L</text><text x="747.1" y="267.5" font-size="11.3" font-style="italic">μμ</text>
<text x="722.1" y="295.0" font-size="16.0">−<tspan font-style="italic" dy="-1.1">δη</tspan></text><text x="748.1" y="288.5" font-size="11.0" font-style="italic">L</text><text x="747.1" y="298.6" font-size="11.3">ee</text>
<path d="M723.20,315.0 V327.9" stroke="#000" stroke-width="1.25" fill="none"/><text x="724.8" y="325.7" font-size="16.0" font-style="italic">δη</text><text x="741.2" y="319.6" font-size="11.0" font-style="italic">L</text><text x="740.5" y="329.7" font-size="11.3"><tspan font-style="italic" letter-spacing="0.6">τμ</tspan></text><path d="M753.60,315.0 V327.9" stroke="#000" stroke-width="1.25" fill="none"/>
<path d="M723.20,346.5 V359.4" stroke="#000" stroke-width="1.25" fill="none"/><text x="724.8" y="357.2" font-size="16.0" font-style="italic">δη</text><text x="741.2" y="351.1" font-size="11.0" font-style="italic">L</text><text x="740.5" y="361.2" font-size="11.3"><tspan letter-spacing="0.4">τ</tspan>e</text><path d="M752.80,346.5 V359.4" stroke="#000" stroke-width="1.25" fill="none"/>
<path d="M723.20,378.1 V391.0" stroke="#000" stroke-width="1.25" fill="none"/><text x="724.8" y="388.8" font-size="16.0" font-style="italic">δη</text><text x="741.2" y="382.7" font-size="11.0" font-style="italic">L</text><text x="740.5" y="392.8" font-size="11.3"><tspan font-style="italic">μ</tspan>e</text><path d="M753.60,378.1 V391.0" stroke="#000" stroke-width="1.25" fill="none"/>

</g>
<g fill="none">
<path d="M671,229.7 H715.2" stroke="#000" stroke-width="3.3"/>
<path d="M671,261.5 H715.2" stroke="#f00" stroke-width="2.9"/>
<path d="M671,292.6 H715.2" stroke="#00f" stroke-width="2.9"/>
<path d="M671.1,324.4 H714" stroke="#00ee00" stroke-width="2.9" stroke-dasharray="17.9 7"/>
<path d="M671.1,355.8 H715" stroke="#ffd280" stroke-width="2.9" stroke-dasharray="12.9 7.2 3.7 7"/>
<path d="M671.1,387.3 H712" stroke="#b2b2b2" stroke-width="2.9" stroke-dasharray="4.1 6.8"/>
</g>
</svg>
</body></html>
